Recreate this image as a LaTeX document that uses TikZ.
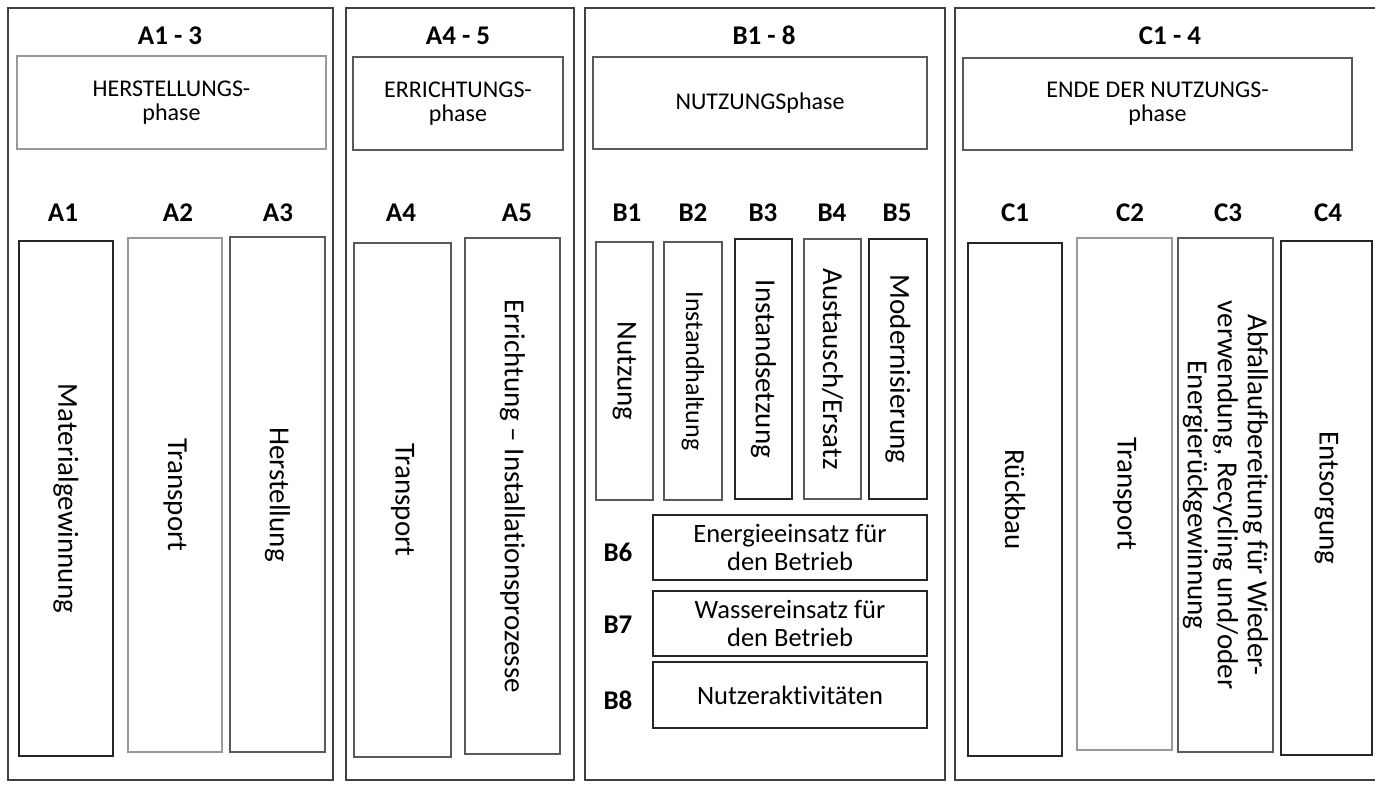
\documentclass[tikz,border=0pt]{standalone}
\usepackage{fontspec}
\setmainfont[Ligatures={TeX,NoCommon}]{Carlito}
\newcommand\vcell[7]{\node[cell,#6,rotate=-90,minimum width={(#5-#3)*1pt},minimum height={(#4-#2)*1pt}] (#1) at ({(#2+#4)/2},{-(#3+#5)/2}) {#7};}
\newcommand\hcell[7]{\node[cell,#6,minimum width={(#4-#2)*1pt},minimum height={(#5-#3)*1pt}] (#1) at ({(#2+#4)/2},{-(#3+#5)/2}) {#7};}
\tikzset{
  cell/.style={draw, line width=1.6pt, inner sep=0pt, outer sep=0pt, align=center, font=\fontsize{29}{31}\selectfont},
  panel/.style={draw=black!75, line width=1.7pt},
  phase/.style={font=\fontsize{24}{24}\selectfont},
  btext/.style={font=\fontsize{26.5}{28}\selectfont},
  head/.style={font=\bfseries\fontsize{27}{30}\selectfont, inner sep=0pt, anchor=base},
  dk/.style={draw=black!85},
  md/.style={draw=black!65},
  lt/.style={draw=black!40}
}
\begin{document}
\begin{tikzpicture}[x=1pt,y=1pt]
\useasboundingbox[fill=white] (0,0) rectangle (1375,-785);
% panels
\hcell{PA}{8}{8}{333}{780}{panel}{}
\hcell{PB}{346}{8}{574}{780}{panel}{}
\hcell{PC}{585}{8}{945}{780}{panel}{}
\hcell{PD}{955}{8}{1385}{780}{panel}{}
% headings
\node[head] (hA) at (170,-44.5) {A1 - 3};
\node[head] (hB) at (458,-44.5) {A4 - 5};
\node[head] (hC) at (764,-44.5) {B1 - 8};
\node[head] (hD) at (1170,-44.5) {C1 - 4};
% phase boxes
\hcell{phA}{17}{56}{326}{149}{lt,phase}{HERSTELLUNGS-\\phase}
\hcell{phB}{353}{57}{563}{150}{md,phase}{ERRICHTUNGS-\\phase}
\hcell{phC}{593}{57}{927}{149}{md,phase}{NUTZUNGSphase}
\hcell{phD}{963}{58}{1352}{150}{md,phase}{ENDE DER NUTZUNGS-\\phase}
% module labels
\foreach \n/\x in {A1/63,A2/178,A3/278,A4/401,A5/517,B1/627,B2/693,B3/763,B4/832,B5/897,C1/1015,C2/1130,C3/1228,C4/1328}
  \node[head] (l\n) at (\x,-221.5) {\n};
\node[head] (lB6) at (618,-561.5) {B6};
\node[head] (lB7) at (618,-633.5) {B7};
\node[head] (lB8) at (618,-709.5) {B8};
% A modules
\vcell{A1}{19}{241}{113}{756}{dk}{Materialgewinnung}
\vcell{A2}{128}{238}{222}{752}{lt}{Transport}
\vcell{A3}{230}{237}{325}{752}{md}{Herstellung}
\vcell{A4}{354}{243}{451}{757}{md}{Transport}
\vcell{A5}{465}{238}{560}{754}{md}{Errichtung – Installationsprozesse}
% B modules
\vcell{B1}{596}{242}{653}{500}{md}{Nutzung}
\vcell{B2}{664}{242}{722}{500}{md,font=\fontsize{26}{28}\selectfont}{Instandhaltung}
\vcell{B3}{735}{239}{792}{499}{dk}{Instandsetzung}
\vcell{B4}{804}{239}{861}{499}{md}{Austausch/Ersatz}
\vcell{B5}{869}{239}{927}{499}{dk}{Modernisierung}
\hcell{B6}{653}{515}{927}{580}{dk,btext}{Energieeinsatz für\\den Betrieb}
\hcell{B7}{653}{591}{927}{656}{dk,btext}{Wassereinsatz für\\den Betrieb}
\hcell{B8}{653}{662}{927}{728}{dk,btext}{Nutzeraktivitäten}
% C modules
\vcell{C1}{968}{243}{1062}{756}{dk}{Rückbau}
\vcell{C2}{1077}{238}{1172}{750}{lt}{Transport}
\vcell{C3}{1178}{238}{1273}{752}{md,font=\fontsize{29}{30}\selectfont}{Abfallaufbereitung für Wieder-\\verwendung, Recycling und/oder\\Energierückgewinnung}
\vcell{C4}{1281}{241}{1372}{755}{dk}{Entsorgung}
\end{tikzpicture}
\end{document}
